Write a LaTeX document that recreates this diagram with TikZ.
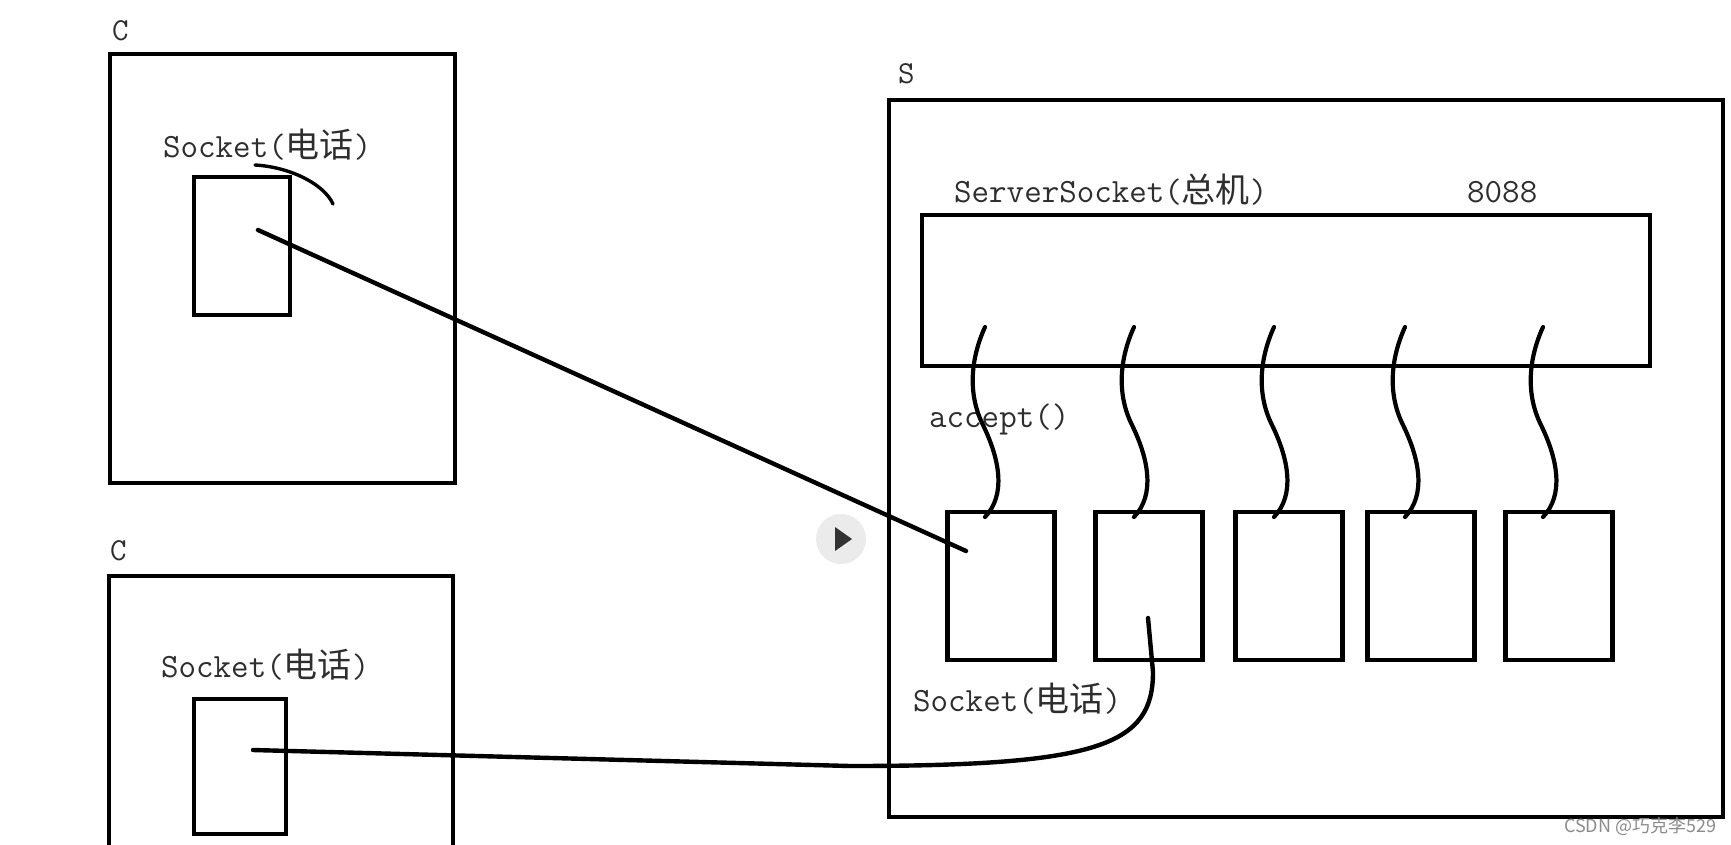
\documentclass[tikz,border=0pt]{standalone}
\usepackage{fontspec}
\newfontfamily\cjk{Noto Sans CJK SC}
\usetikzlibrary{calc}
\tikzset{
  box/.style={draw, line width=4.6pt, inner sep=0pt, outer sep=0pt},
  lbl/.style={anchor=base west, inner sep=0pt, text=black!82, font=\ttfamily\fontsize{34}{40}\selectfont},
  small/.style={anchor=base west, inner sep=0pt, text=black!82, font=\ttfamily\fontsize{32}{36}\selectfont},
  wire/.style={line width=4.4pt, line cap=round},
  wave/.style={line width=4.2pt, line cap=round},
}
\begin{document}
\begin{tikzpicture}[x=1pt,y=-1pt]
\path[use as bounding box, clip] (0,0) rectangle (1731,844);
\fill[white] (0,0) rectangle (1731,844);

% client 1
\node[box, minimum width=345pt, minimum height=429pt] (c1) at (282.5,268.5) {};
\node[box, minimum width=96pt, minimum height=138pt] (c1s) at (242,246) {};
\node[small] (c1l) at (112,40) {C};
\node[lbl] (c1t) at (163,157) {Socket({\cjk 电话})};

% client 2
\node[box, minimum width=344pt, minimum height=324pt] (c2) at (281,738) {};
\node[box, minimum width=92pt, minimum height=135pt] (c2s) at (240,766.5) {};
\node[small] (c2l) at (110,560) {C};
\node[lbl] (c2t) at (161,677) {Socket({\cjk 电话})};

% server
\node[box, minimum width=834pt, minimum height=717pt] (srv) at (1306,458.5) {};
\node[small] (sl) at (898,83) {S};
\node[box, minimum width=728pt, minimum height=151pt] (ss) at (1286,290.5) {};
\node[lbl] (sst) at (954,202) {ServerSocket({\cjk 总机})};
\node[lbl] (port) at (1467,202) {8088};
\node[lbl] (acc) at (929,427) {accept()};
\node[lbl] (sst2) at (913,711) {Socket({\cjk 电话})};

\foreach \i/\cx in {1/1001,2/1149,3/1289,4/1421,5/1559}{
  \node[box, minimum width=107pt, minimum height=148pt] (k\i) at (\cx,586) {};
}

% waves from ServerSocket to sockets
\foreach \i/\tx in {1/985,2/1134,3/1274,4/1405,5/1543}{
  \coordinate (wt\i) at (\tx,327);
  \coordinate (wb\i) at (\tx,517);
  \draw[wave] (wt\i) .. controls ($(wt\i)+(-15,33)$) and ($(wt\i)+(-17,68)$) .. ($(wt\i)+(-2,98)$)
      .. controls ($(wt\i)+(15,133)$) and ($(wt\i)+(21,168)$) .. (wb\i);
}

% connection client 1 -> socket 1
\coordinate (a1) at (258,230);
\coordinate (b1) at (966,551);
\draw[wire] (a1) -- (b1);
\coordinate (r1) at (255,165);
\coordinate (r2) at (333,204);
\draw[line width=3.4pt, line cap=round] (r1) .. controls (290,167) and (324,184) .. (r2);

% connection client 2 -> socket 2
\coordinate (a2) at (253,750);
\coordinate (m2) at (850,766);
\coordinate (b2) at (1148,618);
\draw[wire] (a2) -- (m2) .. controls (1100,766) and (1153,745) .. (1153,672) -- (b2);

% play button overlay
\node[circle, fill=black!8, minimum size=50pt, inner sep=0pt] (play) at (841,539) {};
\fill[black!80] ($(play.center)+(-6,-12)$) -- ($(play.center)+(-6,12)$) -- ($(play.center)+(11,0)$) -- cycle;

% watermark
\node[anchor=base west, inner sep=0pt, text=black!45, font=\cjk\fontsize{18}{20}\selectfont] (wm) at (1564,832) {CSDN @巧克李529};
\end{tikzpicture}
\end{document}
